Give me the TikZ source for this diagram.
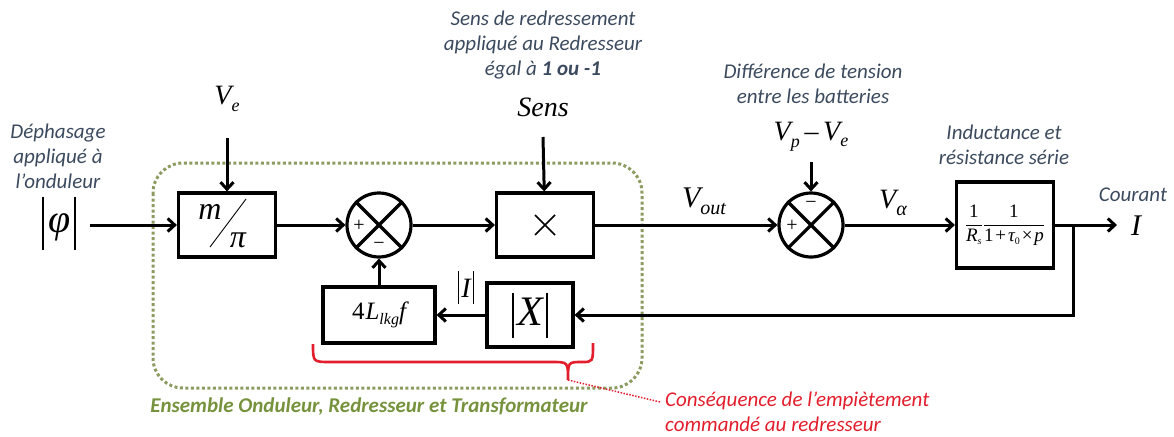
\documentclass[tikz,border=0pt]{standalone}
\usepackage{fontspec}
\setmainfont{Carlito}
\newfontfamily\tms{Liberation Serif}
\usetikzlibrary{arrows.meta}
\definecolor{anno}{RGB}{59,74,94}
\definecolor{grn}{RGB}{118,146,60}
\definecolor{dotc}{RGB}{140,155,95}
\definecolor{redc}{RGB}{226,30,45}
\newcommand\fsz[1]{\fontsize{#1}{#1}\selectfont}
\begin{document}
\begin{tikzpicture}[x=1pt,y=-1pt,
  blk/.style={draw,line width=3.2pt,inner sep=0pt},
  sumc/.style={draw,circle,line width=3.2pt,minimum size=64pt,inner sep=0pt},
  arr/.style={line width=3pt,-{Straight Barb[length=7pt,width=13pt]}},
  annot/.style={font=\fontsize{21}{25}\selectfont\itshape,text=anno,align=center,inner sep=0pt},
  mth/.style={inner sep=0pt,font=\tms\itshape},
  sgn/.style={inner sep=0pt,font=\tms\fsz{20}}]
\useasboundingbox (0,0) rectangle (1174,436);

% group box
\draw[dotc,line width=3pt,dash pattern=on 3pt off 2.5pt,rounded corners=30pt] (153,163) rectangle (642,388);

% annotations
\node[annot] (adeph) at (58,156) {Déphasage\\appliqué à\\l’onduleur};
\node[annot] (asens) at (543,45) {Sens de redressement\\appliqué au Redresseur\\égal à \textbf{1 ou -1}};
\node[annot] (adiff) at (813,84) {Différence de tension\\entre les batteries};
\node[annot] (aind) at (1004,145) {Inductance et\\résistance série};
\node[annot] (acour) at (1133,195) {Courant};
\node[inner sep=0pt,text=grn,font=\fontsize{21}{25}\selectfont\bfseries\itshape] (aens) at (369,407) {Ensemble Onduleur, Redresseur et Transformateur};
\node[inner sep=0pt,text=redc,font=\fontsize{21}{25}\selectfont\itshape,align=left,anchor=west] (acons) at (665,412) {Conséquence de l’empiètement\\commandé au redresseur};

% math labels
\node[mth] (phi) at (59,223) {\rule[-17pt]{2.4pt}{53pt}\hspace{5pt}\fsz{40}φ\hspace{3pt}\rule[-17pt]{2.4pt}{53pt}};
\node[mth] (ve) at (227,99) {\fsz{28}V\raisebox{-7pt}{\fsz{18}e}};
\node[mth] (sens) at (543,107) {\fsz{28}Sens};
\node[mth] (vpve) at (811,137) {\fsz{28}V\raisebox{-7pt}{\fsz{18}p}\,\textup{–}\,V\raisebox{-6pt}{\fsz{18}e}};
\node[mth] (vout) at (704,201) {\fsz{30}V\raisebox{-7pt}{\fsz{20}out}};
\node[mth] (valpha) at (893,203) {\fsz{28}V\raisebox{-7pt}{\fsz{20}α}};
\node[mth] (iout) at (1136,226) {\fsz{30}I};
\node[mth] (iabs) at (466,287) {\rule[-6pt]{1.5pt}{33pt}\hspace{2pt}\fsz{28}I\hspace{2pt}\rule[-6pt]{1.5pt}{33pt}};

% blocks
\node[blk,minimum width=97pt,minimum height=64pt] (mpi) at (227,225) {};
\node[mth] (mpim) at (210,212) {\fsz{32}m};
\node[mth] (mpip) at (238,240) {\fsz{32}π};
\coordinate (slA) at (246,199);
\coordinate (slB) at (210,247);
\draw[line width=0.9pt] (slA) -- (slB);

\node[sumc] (s1) at (379,225) {};
\draw[line width=3.2pt] (s1.north west) -- (s1.south east) (s1.north east) -- (s1.south west);
\node[sgn] (s1p) at (359,226) {+};
\node[sgn] (s1m) at (379,246) {−};

\node[blk,minimum width=97pt,minimum height=64pt] (mul) at (545,225) {};
\draw[line width=1.6pt] (mul.center) ++(-10,-10) coordinate (mxA) -- ++(20,20) coordinate (mxB);
\draw[line width=1.6pt] (mul.center) ++(10,-10) coordinate (mxC) -- ++(-20,20) coordinate (mxD);

\node[sumc] (s2) at (811,225) {};
\draw[line width=3.2pt] (s2.north west) -- (s2.south east) (s2.north east) -- (s2.south west);
\node[sgn] (s2p) at (792,226) {+};
\node[sgn] (s2m) at (811,205) {−};

\node[blk,minimum width=97pt,minimum height=86pt,font=\tms\fsz{19}] (rb) at (1005,225)
  {$\displaystyle\frac{\hbox{1}}{\hbox{\itshape R\raisebox{-3pt}{\fsz{10}s}}}\frac{\hbox{1}}{\hbox{1}\mskip2mu\hbox{+}\mskip2mu\hbox{\itshape τ\raisebox{-3pt}{\fsz{10}\upshape 0}}\mskip2mu\hbox{×}\mskip2mu\hbox{\itshape p}}$};

\node[blk,minimum width=112pt,minimum height=56pt,font=\tms\fsz{25}] (lkg) at (379,315)
  {4\hspace{1pt}{\itshape L\raisebox{-5pt}{\fsz{16}lkg}f}};
\node[blk,minimum width=86pt,minimum height=64pt,font=\tms\itshape] (absx) at (530,315)
  {\rule[-12pt]{1.6pt}{45pt}\hspace{4pt}\fsz{42}X\hspace{3pt}\rule[-12pt]{1.6pt}{45pt}};

% connectors
\coordinate (phiA) at (90,225);
\coordinate (veA) at (227,138);
\coordinate (sensA) at (543,137);
\coordinate (vpA) at (811,162);
\coordinate (iA) at (1117,225);
\coordinate (br) at (1073,225);
\draw[arr] (phiA) -- (mpi);
\draw[arr] (veA) -- (mpi);
\draw[arr] (mpi) -- (s1);
\draw[arr] (s1) -- (mul);
\draw[arr] (sensA) -- (mul);
\draw[arr] (mul) -- (s2);
\draw[arr] (vpA) -- (s2);
\draw[arr] (s2) -- (rb);
\draw[arr] (rb) -- (iA);
\draw[arr] (br) |- (absx);
\draw[arr] (absx) -- (lkg);
\draw[arr] (lkg) -- (s1);

% red brace
\coordinate (btip) at (568,380);
\draw[redc,line width=2.6pt] (313,344) .. controls (313,362) .. (330,362) -- (552,362)
  .. controls (568,362) .. (btip) .. controls (568,362) .. (582,362) .. controls (593,362) .. (593,343);
\coordinate (consA) at (660,402);
\draw[redc,line width=1.5pt,dash pattern=on 1.5pt off 1.5pt] (btip) -- (consA);
\end{tikzpicture}
\end{document}
